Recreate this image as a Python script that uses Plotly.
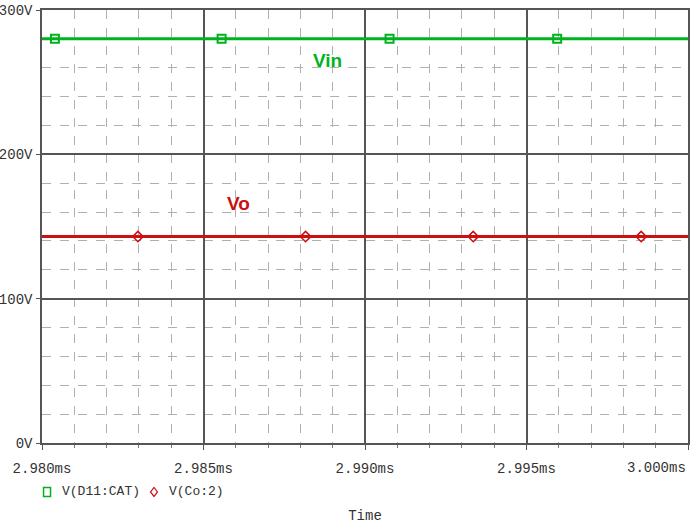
import plotly.graph_objects as go

# ---- data (time in ms, voltage in V) ----
t_span = [2.980, 3.000]
vin_level = [280, 280]
vo_level = [143, 143]
vin_marker_t = [2.9804, 2.98556, 2.99076, 2.99595]
vin_marker_v = [280, 280, 280, 280]
vo_marker_t = [2.98297, 2.98816, 2.99335, 2.99855]
vo_marker_v = [143, 143, 143, 143]
x_ticks = [2.980, 2.985, 2.990, 2.995, 3.000]
x_ticklabels = ["2.980ms", "2.985ms", "2.990ms", "2.995ms", "3.000ms"]
y_ticks = [0, 100, 200, 300]
y_ticklabels = ["0V", "100V", "200V", "300V"]
legend_names = ["V(D11:CAT)", "V(Co:2)"]

GREEN = "#00b31e"
RED = "#cc1010"
MONO = "Liberation Mono"
TXT = "#333333"

fig = go.Figure()
fig.add_trace(go.Scatter(x=t_span, y=vin_level, mode="lines",
                         line=dict(color=GREEN, width=3), showlegend=False, hoverinfo="skip"))
fig.add_trace(go.Scatter(x=t_span, y=vo_level, mode="lines",
                         line=dict(color=RED, width=3), showlegend=False, hoverinfo="skip"))
fig.add_trace(go.Scatter(x=vin_marker_t, y=vin_marker_v, mode="markers", name=legend_names[0],
                         showlegend=False,
                         marker=dict(symbol="square-open", size=8, color=GREEN, line=dict(width=2, color=GREEN))))
fig.add_trace(go.Scatter(x=vo_marker_t, y=vo_marker_v, mode="markers", name=legend_names[1],
                         showlegend=False,
                         marker=dict(symbol="diamond-open", size=8, color=RED, line=dict(width=1.5, color=RED))))

# curve labels
fig.add_annotation(x=2.98885, y=265, text="<b>Vin</b>", showarrow=False,
                   font=dict(family="Liberation Sans Narrow, Liberation Sans", size=19, color=GREEN))
fig.add_annotation(x=2.98607, y=166, text="<b>Vo</b>", showarrow=False,
                   font=dict(family="Liberation Sans Narrow, Liberation Sans", size=19, color=RED))

# last x tick label is kept inside the figure (right-aligned at the axis end)
fig.add_annotation(xref="paper", yref="paper", x=1.0, y=-0.0577, xanchor="right", yanchor="middle",
                   text=x_ticklabels[-1], showarrow=False, font=dict(family=MONO, size=14, color=TXT))

# legend drawn below the axis (symbol + text)
LEG_Y = -0.113
fig.add_shape(type="rect", xref="paper", yref="paper", xsizemode="pixel", ysizemode="pixel",
              xanchor=0.0078, yanchor=LEG_Y, x0=-3.5, x1=3.5, y0=-4.5, y1=4.5,
              line=dict(color=GREEN, width=1.5), fillcolor="rgba(0,0,0,0)")
fig.add_annotation(xref="paper", yref="paper", x=0.0279, y=LEG_Y, xanchor="left", yanchor="middle",
                   text=legend_names[0], showarrow=False, font=dict(family=MONO, size=13, color=TXT))
fig.add_shape(type="path", xref="paper", yref="paper", xsizemode="pixel", ysizemode="pixel",
              xanchor=0.1734, yanchor=LEG_Y, path="M -3.5 0 L 0 4.5 L 3.5 0 L 0 -4.5 Z",
              line=dict(color=RED, width=1.2), fillcolor="rgba(0,0,0,0)")
fig.add_annotation(xref="paper", yref="paper", x=0.1935, y=LEG_Y, xanchor="left", yanchor="middle",
                   text=legend_names[1], showarrow=False, font=dict(family=MONO, size=13, color=TXT))

fig.update_layout(
    width=692, height=524,
    margin=dict(l=42, r=4, t=10, b=81, autoexpand=False),
    paper_bgcolor="white", plot_bgcolor="white",
    font=dict(family=MONO, size=14, color=TXT),
    showlegend=False,
    xaxis=dict(range=t_span, tickvals=x_ticks, ticktext=x_ticklabels[:-1] + [""], automargin=False,
               showgrid=True, gridcolor="#555555", gridwidth=1.5,
               showline=True, linecolor="#555555", linewidth=1.5, mirror=True,
               ticks="outside", ticklen=5, tickcolor="#555555", ticklabelstandoff=6,
               minor=dict(dtick=0.001, tick0=2.980, showgrid=True, gridcolor="#b0b0b0",
                          griddash="dash", gridwidth=1, ticks="outside", ticklen=3, tickcolor="#777777"),
               zeroline=False,
               title=dict(text="Time", font=dict(family=MONO, size=14, color=TXT), standoff=38)),
    yaxis=dict(range=[0, 300], tickvals=y_ticks, ticktext=y_ticklabels, automargin=False,
               showgrid=True, gridcolor="#555555", gridwidth=1.5,
               showline=True, linecolor="#555555", linewidth=1.5, mirror=True,
               ticks="outside", ticklen=4, tickcolor="#555555", ticklabelstandoff=1,
               minor=dict(dtick=20, tick0=0, showgrid=True, gridcolor="#b0b0b0",
                          griddash="dash", gridwidth=1),
               zeroline=False),
)

# the page body has a default 8px margin; remove it so the figure fills the window
fig.write_html("out.html", config={"displayModeBar": False},
               post_script="document.body.style.margin='0';")
